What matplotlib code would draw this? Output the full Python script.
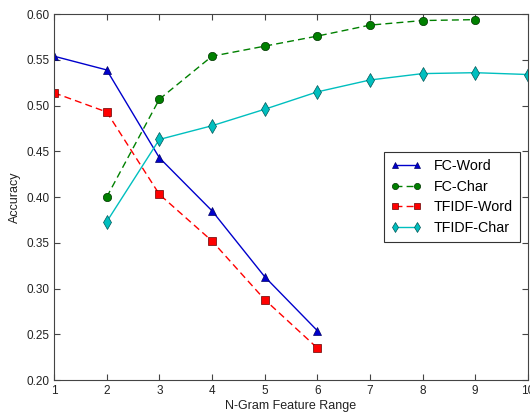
import matplotlib
matplotlib.use("Agg")
import matplotlib.pyplot as plt

plt.rcParams['font.family'] = ['Liberation Sans', 'DejaVu Sans']

x_word = [1, 2, 3, 4, 5, 6]
fc_word = [0.554, 0.539, 0.443, 0.385, 0.313, 0.254]
tfidf_word = [0.514, 0.493, 0.403, 0.352, 0.288, 0.235]

x_fc_char = [2, 3, 4, 5, 6, 7, 8, 9]
fc_char = [0.400, 0.507, 0.554, 0.565, 0.576, 0.588, 0.593, 0.594]

x_tfidf_char = [2, 3, 4, 5, 6, 7, 8, 9, 10]
tfidf_char = [0.373, 0.463, 0.478, 0.496, 0.515, 0.528, 0.535, 0.536, 0.534]

xticks = [1, 2, 3, 4, 5, 6, 7, 8, 9, 10]
yticks = [0.20, 0.25, 0.30, 0.35, 0.40, 0.45, 0.50, 0.55, 0.60]

fig = plt.figure(figsize=(5.3, 4.16), dpi=100)
ax = fig.add_axes([0.102, 0.0865, 0.894, 0.8795])

ax.plot(x_word, fc_word, '-', color='#0000cc', marker='^', markersize=6,
        markeredgecolor='#000066', markeredgewidth=0.5, lw=1, label='FC-Word')
ax.plot(x_fc_char, fc_char, '--', color='#008000', marker='o', markersize=6,
        markeredgecolor='#003300', markeredgewidth=0.5, lw=1, label='FC-Char', dashes=(5, 3))
ax.plot(x_word, tfidf_word, '--', color='#ff0000', marker='s', markersize=6,
        markeredgecolor='#660000', markeredgewidth=0.5, lw=1, label='TFIDF-Word', dashes=(5, 3))
ax.plot(x_tfidf_char, tfidf_char, '-', color='#00bfbf', marker='d', markersize=7,
        markeredgecolor='#005555', markeredgewidth=0.5, lw=1, label='TFIDF-Char')

ax.set_xlim(1, 10)
ax.set_ylim(0.20, 0.60)
ax.set_xticks(xticks)
ax.set_xticklabels([str(v) for v in xticks])
ax.set_yticks(yticks)
ax.set_yticklabels([f"{v:.2f}" for v in yticks])
ax.tick_params(direction='in', top=True, right=True, labelsize=8.5, length=4,
               color='#444444', labelcolor='#222222')
for s in ax.spines.values():
    s.set_color('#444444')
ax.set_xlabel('N-Gram Feature Range', fontsize=9, color='#222222', labelpad=2)
ax.set_ylabel('Accuracy', fontsize=9, color='#222222', labelpad=4)

leg = ax.legend(loc='upper left', bbox_to_anchor=(0.696, 0.623), fontsize=10.3,
                handlelength=2.1, markerscale=0.75, numpoints=2, fancybox=False,
                framealpha=1, borderpad=0.5, labelspacing=0.45, handletextpad=0.9,
                borderaxespad=0)
leg.get_frame().set_edgecolor('#333333')
leg.get_frame().set_linewidth(0.8)

fig.savefig('out.png', dpi=100)
